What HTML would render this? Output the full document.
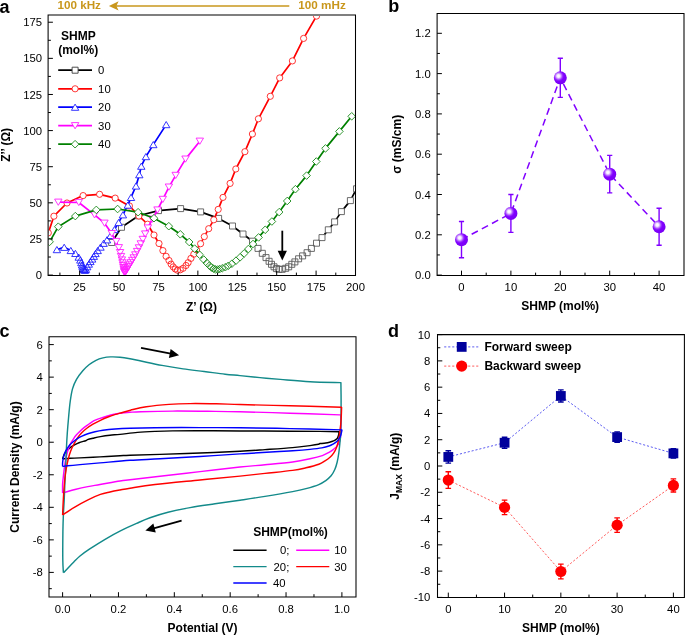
<!DOCTYPE html><html><head><meta charset="utf-8"><style>html,body{margin:0;padding:0;background:#fff;overflow:hidden}svg{display:block;will-change:transform}text{font-family:"Liberation Sans", sans-serif}</style></head><body>
<svg width="685" height="635" viewBox="0 0 685 635">
<rect width="685" height="635" fill="#fff"/>
<defs><clipPath id="cpa"><rect x="48.6" y="15.5" width="306.4" height="259.5"/></clipPath></defs>
<g clip-path="url(#cpa)" transform="translate(0 0.4)">
<polyline points="111.7,242.1 121.5,226.9 138.6,215.4 158.5,210.2 180.6,208.2 200.6,211.5 218.6,218 232.5,225.6 243,233.6 252.5,240.8 258,248 262.3,252.9 266,257.2 269.1,260.9 271.5,263.9 274,266.4 276.4,268.2 278.9,268.9 282.2,268.9 285.7,267.9 288.7,266.4 291.8,263.9 294.9,261.5 298.6,258.4 302.6,255.5 307.1,252.3 311.4,248 316.5,242.8 322,237.2 328.3,229.4 334.6,221.5 341.4,211.2 350.4,200.2 356.5,188.4" fill="none" stroke="#000000" stroke-width="1.7" stroke-linejoin="round"/>
<path d="M108.7 239.1h6v6h-6ZM118.5 223.9h6v6h-6ZM135.6 212.4h6v6h-6ZM155.5 207.2h6v6h-6ZM177.6 205.2h6v6h-6ZM197.6 208.5h6v6h-6ZM215.6 215h6v6h-6ZM229.5 222.6h6v6h-6ZM240 230.6h6v6h-6ZM249.5 237.8h6v6h-6ZM255 245h6v6h-6ZM259.3 249.9h6v6h-6ZM263 254.2h6v6h-6ZM266.1 257.9h6v6h-6ZM268.5 260.9h6v6h-6ZM271 263.4h6v6h-6ZM273.4 265.2h6v6h-6ZM275.9 265.9h6v6h-6ZM279.2 265.9h6v6h-6ZM282.7 264.9h6v6h-6ZM285.7 263.4h6v6h-6ZM288.8 260.9h6v6h-6ZM291.9 258.5h6v6h-6ZM295.6 255.4h6v6h-6ZM299.6 252.5h6v6h-6ZM304.1 249.3h6v6h-6ZM308.4 245h6v6h-6ZM313.5 239.8h6v6h-6ZM319 234.2h6v6h-6ZM325.3 226.4h6v6h-6ZM331.6 218.5h6v6h-6ZM338.4 208.2h6v6h-6ZM347.4 197.2h6v6h-6ZM353.5 185.4h6v6h-6Z" fill="#fff" stroke="#5a5a5a" stroke-width="0.9"/>
<polyline points="48.3,232.5 53.9,215.8 67,202.6 83.1,195.2 99.6,193.9 115.2,197.7 129.4,205.5 138.9,215.6 147.6,223.8 154,234.6 159,243.1 162.9,250.2 166.1,255.9 169,260.1 171.1,263.7 173.2,266.5 175.3,268.6 177.5,269.8 180.3,269.4 183.1,267.9 186,265.1 188.1,262.3 190.9,258 193.8,253.8 196.6,249.5 200.6,243.3 204.3,236.2 208.7,228.3 213.8,219.4 218.2,209 223,197 230.1,183 235.8,168.6 244.9,151.3 252.4,133.6 258.4,118.4 270.3,95.9 279.7,77.5 292.4,60.5 303.6,38 316.5,15.7" fill="none" stroke="#FF0000" stroke-width="1.7" stroke-linejoin="round"/>
<path d="M45.2 232.5a3.1 3.1 0 1 0 6.2 0a3.1 3.1 0 1 0 -6.2 0ZM50.8 215.8a3.1 3.1 0 1 0 6.2 0a3.1 3.1 0 1 0 -6.2 0ZM63.9 202.6a3.1 3.1 0 1 0 6.2 0a3.1 3.1 0 1 0 -6.2 0ZM80 195.2a3.1 3.1 0 1 0 6.2 0a3.1 3.1 0 1 0 -6.2 0ZM96.5 193.9a3.1 3.1 0 1 0 6.2 0a3.1 3.1 0 1 0 -6.2 0ZM112.1 197.7a3.1 3.1 0 1 0 6.2 0a3.1 3.1 0 1 0 -6.2 0ZM126.3 205.5a3.1 3.1 0 1 0 6.2 0a3.1 3.1 0 1 0 -6.2 0ZM135.8 215.6a3.1 3.1 0 1 0 6.2 0a3.1 3.1 0 1 0 -6.2 0ZM144.5 223.8a3.1 3.1 0 1 0 6.2 0a3.1 3.1 0 1 0 -6.2 0ZM150.9 234.6a3.1 3.1 0 1 0 6.2 0a3.1 3.1 0 1 0 -6.2 0ZM155.9 243.1a3.1 3.1 0 1 0 6.2 0a3.1 3.1 0 1 0 -6.2 0ZM159.8 250.2a3.1 3.1 0 1 0 6.2 0a3.1 3.1 0 1 0 -6.2 0ZM163 255.9a3.1 3.1 0 1 0 6.2 0a3.1 3.1 0 1 0 -6.2 0ZM165.9 260.1a3.1 3.1 0 1 0 6.2 0a3.1 3.1 0 1 0 -6.2 0ZM168 263.7a3.1 3.1 0 1 0 6.2 0a3.1 3.1 0 1 0 -6.2 0ZM170.1 266.5a3.1 3.1 0 1 0 6.2 0a3.1 3.1 0 1 0 -6.2 0ZM172.2 268.6a3.1 3.1 0 1 0 6.2 0a3.1 3.1 0 1 0 -6.2 0ZM174.4 269.8a3.1 3.1 0 1 0 6.2 0a3.1 3.1 0 1 0 -6.2 0ZM177.2 269.4a3.1 3.1 0 1 0 6.2 0a3.1 3.1 0 1 0 -6.2 0ZM180 267.9a3.1 3.1 0 1 0 6.2 0a3.1 3.1 0 1 0 -6.2 0ZM182.9 265.1a3.1 3.1 0 1 0 6.2 0a3.1 3.1 0 1 0 -6.2 0ZM185 262.3a3.1 3.1 0 1 0 6.2 0a3.1 3.1 0 1 0 -6.2 0ZM187.8 258a3.1 3.1 0 1 0 6.2 0a3.1 3.1 0 1 0 -6.2 0ZM190.7 253.8a3.1 3.1 0 1 0 6.2 0a3.1 3.1 0 1 0 -6.2 0ZM193.5 249.5a3.1 3.1 0 1 0 6.2 0a3.1 3.1 0 1 0 -6.2 0ZM197.5 243.3a3.1 3.1 0 1 0 6.2 0a3.1 3.1 0 1 0 -6.2 0ZM201.2 236.2a3.1 3.1 0 1 0 6.2 0a3.1 3.1 0 1 0 -6.2 0ZM205.6 228.3a3.1 3.1 0 1 0 6.2 0a3.1 3.1 0 1 0 -6.2 0ZM210.7 219.4a3.1 3.1 0 1 0 6.2 0a3.1 3.1 0 1 0 -6.2 0ZM215.1 209a3.1 3.1 0 1 0 6.2 0a3.1 3.1 0 1 0 -6.2 0ZM219.9 197a3.1 3.1 0 1 0 6.2 0a3.1 3.1 0 1 0 -6.2 0ZM227 183a3.1 3.1 0 1 0 6.2 0a3.1 3.1 0 1 0 -6.2 0ZM232.7 168.6a3.1 3.1 0 1 0 6.2 0a3.1 3.1 0 1 0 -6.2 0ZM241.8 151.3a3.1 3.1 0 1 0 6.2 0a3.1 3.1 0 1 0 -6.2 0ZM249.3 133.6a3.1 3.1 0 1 0 6.2 0a3.1 3.1 0 1 0 -6.2 0ZM255.3 118.4a3.1 3.1 0 1 0 6.2 0a3.1 3.1 0 1 0 -6.2 0ZM267.2 95.9a3.1 3.1 0 1 0 6.2 0a3.1 3.1 0 1 0 -6.2 0ZM276.6 77.5a3.1 3.1 0 1 0 6.2 0a3.1 3.1 0 1 0 -6.2 0ZM289.3 60.5a3.1 3.1 0 1 0 6.2 0a3.1 3.1 0 1 0 -6.2 0ZM300.5 38a3.1 3.1 0 1 0 6.2 0a3.1 3.1 0 1 0 -6.2 0ZM313.4 15.7a3.1 3.1 0 1 0 6.2 0a3.1 3.1 0 1 0 -6.2 0Z" fill="#fff" stroke="#FF2020" stroke-width="0.9"/>
<polyline points="56.9,249.2 64.2,246.9 70.8,250.1 75.4,253 78.7,256.7 80.3,259.6 81.3,262.2 82,264.5 82.6,266.3 83.2,267.7 83.8,268.8 84.4,269.5 85.1,269.8 85.9,268.9 87.2,266.3 88.8,263.7 90.4,261.1 92.2,258.6 93.8,255.9 95.5,253.1 97.7,250.1 100.5,246.7 103.6,242.9 107,239.4 110.6,235 114.5,229.1 118.6,222.1 122.9,214.4 127.8,204.7 131,197 136,185.6 139.3,174.3 141.3,165.8 145.9,156.2 153.3,144.2 166.2,124.2" fill="none" stroke="#0000FF" stroke-width="1.7" stroke-linejoin="round"/>
<path d="M56.9 246.1L60.6 252.3L53.2 252.3ZM64.2 243.8L67.9 250L60.5 250ZM70.8 247L74.5 253.2L67.1 253.2ZM75.4 249.9L79.1 256.1L71.7 256.1ZM78.7 253.6L82.4 259.8L75 259.8ZM80.3 256.5L84 262.7L76.6 262.7ZM81.3 259.1L85 265.3L77.6 265.3ZM82 261.4L85.7 267.6L78.3 267.6ZM82.6 263.2L86.3 269.4L78.9 269.4ZM83.2 264.6L86.9 270.8L79.5 270.8ZM83.8 265.7L87.5 271.9L80.1 271.9ZM84.4 266.4L88.1 272.6L80.7 272.6ZM85.1 266.7L88.8 272.9L81.4 272.9ZM85.9 265.8L89.6 272L82.2 272ZM87.2 263.2L90.9 269.4L83.5 269.4ZM88.8 260.6L92.5 266.8L85.1 266.8ZM90.4 258L94.1 264.2L86.7 264.2ZM92.2 255.5L95.9 261.7L88.5 261.7ZM93.8 252.8L97.5 259L90.1 259ZM95.5 250L99.2 256.2L91.8 256.2ZM97.7 247L101.4 253.2L94 253.2ZM100.5 243.6L104.2 249.8L96.8 249.8ZM103.6 239.8L107.3 246L99.9 246ZM107 236.3L110.7 242.5L103.3 242.5ZM110.6 231.9L114.3 238.1L106.9 238.1ZM114.5 226L118.2 232.2L110.8 232.2ZM118.6 219L122.3 225.2L114.9 225.2ZM122.9 211.3L126.6 217.5L119.2 217.5ZM127.8 201.6L131.5 207.8L124.1 207.8ZM131 193.9L134.7 200.1L127.3 200.1ZM136 182.5L139.7 188.7L132.3 188.7ZM139.3 171.2L143 177.4L135.6 177.4ZM141.3 162.7L145 168.9L137.6 168.9ZM145.9 153.1L149.6 159.3L142.2 159.3ZM153.3 141.1L157 147.3L149.6 147.3ZM166.2 121.1L169.9 127.3L162.5 127.3Z" fill="#fff" stroke="#2020FF" stroke-width="0.9"/>
<polyline points="58.3,201.8 78.8,202.1 94.6,214.5 104.5,222.8 111.8,233.2 116.2,241.1 118.8,247.3 120.1,252.2 121,256.1 121.9,259.6 122.5,262.5 123,265 123.4,267.2 123.8,269 124.1,270.5 124.4,271.6 124.7,272.4 125.2,272.1 125.9,270.7 126.7,269.3 127.6,267.9 128.5,266.3 129.6,264.5 130.8,262.4 132.2,260 133.7,257.5 135.3,254.5 137.1,251.1 138.9,247.5 140.8,243.5 142.8,239 145.2,233.6 147.9,227.6 152.3,218.8 157.5,209.6 162.8,199 168.9,186.7 175.7,175 185.5,158.7 199.8,140.8" fill="none" stroke="#FF00FF" stroke-width="1.7" stroke-linejoin="round"/>
<path d="M58.3 204.9L62 198.7L54.6 198.7ZM78.8 205.2L82.5 199L75.1 199ZM94.6 217.6L98.3 211.4L90.9 211.4ZM104.5 225.9L108.2 219.7L100.8 219.7ZM111.8 236.3L115.5 230.1L108.1 230.1ZM116.2 244.2L119.9 238L112.5 238ZM118.8 250.4L122.5 244.2L115.1 244.2ZM120.1 255.3L123.8 249.1L116.4 249.1ZM121 259.2L124.7 253L117.3 253ZM121.9 262.7L125.6 256.5L118.2 256.5ZM122.5 265.6L126.2 259.4L118.8 259.4ZM123 268.1L126.7 261.9L119.3 261.9ZM123.4 270.3L127.1 264.1L119.7 264.1ZM123.8 272.1L127.5 265.9L120.1 265.9ZM124.1 273.6L127.8 267.4L120.4 267.4ZM124.4 274.7L128.1 268.5L120.7 268.5ZM124.7 275.5L128.4 269.3L121 269.3ZM125.2 275.2L128.9 269L121.5 269ZM125.9 273.8L129.6 267.6L122.2 267.6ZM126.7 272.4L130.4 266.2L123 266.2ZM127.6 271L131.3 264.8L123.9 264.8ZM128.5 269.4L132.2 263.2L124.8 263.2ZM129.6 267.6L133.3 261.4L125.9 261.4ZM130.8 265.5L134.5 259.3L127.1 259.3ZM132.2 263.1L135.9 256.9L128.5 256.9ZM133.7 260.6L137.4 254.4L130 254.4ZM135.3 257.6L139 251.4L131.6 251.4ZM137.1 254.2L140.8 248L133.4 248ZM138.9 250.6L142.6 244.4L135.2 244.4ZM140.8 246.6L144.5 240.4L137.1 240.4ZM142.8 242.1L146.5 235.9L139.1 235.9ZM145.2 236.7L148.9 230.5L141.5 230.5ZM147.9 230.7L151.6 224.5L144.2 224.5ZM152.3 221.9L156 215.7L148.6 215.7ZM157.5 212.7L161.2 206.5L153.8 206.5ZM162.8 202.1L166.5 195.9L159.1 195.9ZM168.9 189.8L172.6 183.6L165.2 183.6ZM175.7 178.1L179.4 171.9L172 171.9ZM185.5 161.8L189.2 155.6L181.8 155.6ZM199.8 143.9L203.5 137.7L196.1 137.7Z" fill="#fff" stroke="#FF20FF" stroke-width="0.9"/>
<polyline points="49.6,241.4 58.3,226.3 75.3,215.7 96.3,209.5 117.6,208.6 138.1,211.8 154,217.8 168.8,225.8 180.3,233.9 189.2,241.6 194.6,248.2 199.7,254.4 203.8,259.2 206.9,262.6 209.4,265.2 211.5,267.1 213.5,268.3 215.5,269 217.6,269.1 219.6,268.7 222.2,267.9 225.3,266.8 228.3,265.4 231.9,263.3 236,260.3 240.1,256.9 244.2,253 248.4,248.6 253,243.6 258.6,237 265.2,229.4 271.9,221.1 279.2,211.7 287.2,200.6 295.4,188.8 306.6,175.2 316.3,161.1 325.5,148 339.4,131 351.7,115.9" fill="none" stroke="#008000" stroke-width="1.7" stroke-linejoin="round"/>
<path d="M49.6 237.6L53.4 241.4L49.6 245.2L45.8 241.4ZM58.3 222.5L62.1 226.3L58.3 230.1L54.5 226.3ZM75.3 211.9L79.1 215.7L75.3 219.5L71.5 215.7ZM96.3 205.7L100.1 209.5L96.3 213.3L92.5 209.5ZM117.6 204.8L121.4 208.6L117.6 212.4L113.8 208.6ZM138.1 208L141.9 211.8L138.1 215.6L134.3 211.8ZM154 214L157.8 217.8L154 221.6L150.2 217.8ZM168.8 222L172.6 225.8L168.8 229.6L165 225.8ZM180.3 230.1L184.1 233.9L180.3 237.7L176.5 233.9ZM189.2 237.8L193 241.6L189.2 245.4L185.4 241.6ZM194.6 244.4L198.4 248.2L194.6 252L190.8 248.2ZM199.7 250.6L203.5 254.4L199.7 258.2L195.9 254.4ZM203.8 255.4L207.6 259.2L203.8 263L200 259.2ZM206.9 258.8L210.7 262.6L206.9 266.4L203.1 262.6ZM209.4 261.4L213.2 265.2L209.4 269L205.6 265.2ZM211.5 263.3L215.3 267.1L211.5 270.9L207.7 267.1ZM213.5 264.5L217.3 268.3L213.5 272.1L209.7 268.3ZM215.5 265.2L219.3 269L215.5 272.8L211.7 269ZM217.6 265.3L221.4 269.1L217.6 272.9L213.8 269.1ZM219.6 264.9L223.4 268.7L219.6 272.5L215.8 268.7ZM222.2 264.1L226 267.9L222.2 271.7L218.4 267.9ZM225.3 263L229.1 266.8L225.3 270.6L221.5 266.8ZM228.3 261.6L232.1 265.4L228.3 269.2L224.5 265.4ZM231.9 259.5L235.7 263.3L231.9 267.1L228.1 263.3ZM236 256.5L239.8 260.3L236 264.1L232.2 260.3ZM240.1 253.1L243.9 256.9L240.1 260.7L236.3 256.9ZM244.2 249.2L248 253L244.2 256.8L240.4 253ZM248.4 244.8L252.2 248.6L248.4 252.4L244.6 248.6ZM253 239.8L256.8 243.6L253 247.4L249.2 243.6ZM258.6 233.2L262.4 237L258.6 240.8L254.8 237ZM265.2 225.6L269 229.4L265.2 233.2L261.4 229.4ZM271.9 217.3L275.7 221.1L271.9 224.9L268.1 221.1ZM279.2 207.9L283 211.7L279.2 215.5L275.4 211.7ZM287.2 196.8L291 200.6L287.2 204.4L283.4 200.6ZM295.4 185L299.2 188.8L295.4 192.6L291.6 188.8ZM306.6 171.4L310.4 175.2L306.6 179L302.8 175.2ZM316.3 157.3L320.1 161.1L316.3 164.9L312.5 161.1ZM325.5 144.2L329.3 148L325.5 151.8L321.7 148ZM339.4 127.2L343.2 131L339.4 134.8L335.6 131ZM351.7 112.1L355.5 115.9L351.7 119.7L347.9 115.9Z" fill="#fff" stroke="#1a8a1a" stroke-width="0.9"/>
</g>
<path d="M48.1 15H355.5V275.4H48.1Z" fill="none" stroke="#000" stroke-width="1.05"/>
<path d="M79.63 275.4v-4.8M119.04 275.4v-4.8M158.45 275.4v-4.8M197.86 275.4v-4.8M237.27 275.4v-4.8M276.68 275.4v-4.8M316.09 275.4v-4.8M355.5 275.4v-4.8M59.92 275.4v-2.8M99.33 275.4v-2.8M138.74 275.4v-2.8M178.15 275.4v-2.8M217.56 275.4v-2.8M256.97 275.4v-2.8M296.38 275.4v-2.8M335.79 275.4v-2.8M48.1 275.08h4.8M48.1 238.96h4.8M48.1 202.84h4.8M48.1 166.71h4.8M48.1 130.59h4.8M48.1 94.47h4.8M48.1 58.35h4.8M48.1 22.22h4.8M48.1 257.02h2.8M48.1 220.9h2.8M48.1 184.77h2.8M48.1 148.65h2.8M48.1 112.53h2.8M48.1 76.41h2.8M48.1 40.29h2.8" stroke="#000" stroke-width="1.0" fill="none"/>
<text x="42" y="279.13" font-size="11.3" text-anchor="end" fill="#000">0</text>
<text x="42" y="243.01" font-size="11.3" text-anchor="end" fill="#000">25</text>
<text x="42" y="206.89" font-size="11.3" text-anchor="end" fill="#000">50</text>
<text x="42" y="170.76" font-size="11.3" text-anchor="end" fill="#000">75</text>
<text x="42" y="134.64" font-size="11.3" text-anchor="end" fill="#000">100</text>
<text x="42" y="98.52" font-size="11.3" text-anchor="end" fill="#000">125</text>
<text x="42" y="62.4" font-size="11.3" text-anchor="end" fill="#000">150</text>
<text x="42" y="26.27" font-size="11.3" text-anchor="end" fill="#000">175</text>
<text x="79.63" y="290.6" font-size="11.3" text-anchor="middle" fill="#000">25</text>
<text x="119.04" y="290.6" font-size="11.3" text-anchor="middle" fill="#000">50</text>
<text x="158.45" y="290.6" font-size="11.3" text-anchor="middle" fill="#000">75</text>
<text x="197.86" y="290.6" font-size="11.3" text-anchor="middle" fill="#000">100</text>
<text x="237.27" y="290.6" font-size="11.3" text-anchor="middle" fill="#000">125</text>
<text x="276.68" y="290.6" font-size="11.3" text-anchor="middle" fill="#000">150</text>
<text x="316.09" y="290.6" font-size="11.3" text-anchor="middle" fill="#000">175</text>
<text x="355.5" y="290.6" font-size="11.3" text-anchor="middle" fill="#000">200</text>
<text x="201.5" y="310.5" font-size="12" text-anchor="middle" font-weight="bold" fill="#000">Z’ (Ω)</text>
<text x="0" y="0" font-size="12" text-anchor="middle" font-weight="bold" fill="#000" transform="translate(9.5 144.8) rotate(-90)">Z’’ (Ω)</text>
<text x="-0.6" y="12.6" font-size="18" text-anchor="start" font-weight="bold" fill="#000">a</text>
<text x="57.4" y="9.2" font-size="11.7" text-anchor="start" font-weight="bold" fill="#C9971C">100 kHz</text>
<text x="298.3" y="9.2" font-size="11.7" text-anchor="start" font-weight="bold" fill="#C9971C">100 mHz</text>
<path d="M289.3 5.9H116" stroke="#C9971C" stroke-width="1.5"/>
<path d="M108.9 5.9L118.6 1.3L116.4 5.9L118.6 10.5Z" fill="#C9971C"/>
<path d="M282.3 230.7V252" stroke="#000" stroke-width="1.8"/>
<path d="M282.3 260.6L277.7 250.8H286.9Z" fill="#000"/>
<text x="61" y="40.3" font-size="12" text-anchor="start" font-weight="bold" fill="#000">SHMP</text>
<text x="58.2" y="54.3" font-size="12" text-anchor="start" font-weight="bold" fill="#000">(mol%)</text>
<path d="M58.2 70.2H92" stroke="#000000" stroke-width="1.7"/>
<path d="M72.1 67.2h6v6h-6Z" fill="#fff" stroke="#3a3a3a" stroke-width="0.9"/>
<text x="98.1" y="74.25" font-size="11.3" text-anchor="start" fill="#000">0</text>
<path d="M58.2 88.8H92" stroke="#FF0000" stroke-width="1.7"/>
<path d="M72 88.8a3.1 3.1 0 1 0 6.2 0a3.1 3.1 0 1 0 -6.2 0Z" fill="#fff" stroke="#FF2020" stroke-width="0.9"/>
<text x="98.1" y="92.85" font-size="11.3" text-anchor="start" fill="#000">10</text>
<path d="M58.2 107.2H92" stroke="#0000FF" stroke-width="1.7"/>
<path d="M75.1 104.1L78.8 110.3L71.4 110.3Z" fill="#fff" stroke="#2020FF" stroke-width="0.9"/>
<text x="98.1" y="111.25" font-size="11.3" text-anchor="start" fill="#000">20</text>
<path d="M58.2 125.7H92" stroke="#FF00FF" stroke-width="1.7"/>
<path d="M75.1 128.8L78.8 122.6L71.4 122.6Z" fill="#fff" stroke="#FF20FF" stroke-width="0.9"/>
<text x="98.1" y="129.75" font-size="11.3" text-anchor="start" fill="#000">30</text>
<path d="M58.2 144.2H92" stroke="#008000" stroke-width="1.7"/>
<path d="M75.1 140.4L78.9 144.2L75.1 148L71.3 144.2Z" fill="#fff" stroke="#1a8a1a" stroke-width="0.9"/>
<text x="98.1" y="148.25" font-size="11.3" text-anchor="start" fill="#000">40</text>
<path d="M437.1 13.5H684V275.45H437.1Z" fill="none" stroke="#000" stroke-width="1.05"/>
<path d="M461.5 275.45v-4.8M510.9 275.45v-4.8M560.3 275.45v-4.8M609.7 275.45v-4.8M659.1 275.45v-4.8M486.2 275.45v-2.8M535.6 275.45v-2.8M585 275.45v-2.8M634.4 275.45v-2.8M437.1 275.1h4.8M437.1 234.8h4.8M437.1 194.5h4.8M437.1 154.2h4.8M437.1 113.9h4.8M437.1 73.6h4.8M437.1 33.3h4.8M437.1 254.95h2.8M437.1 214.65h2.8M437.1 174.35h2.8M437.1 134.05h2.8M437.1 93.75h2.8M437.1 53.45h2.8" stroke="#000" stroke-width="1.0" fill="none"/>
<text x="430.7" y="279.15" font-size="11.3" text-anchor="end" fill="#000">0.0</text>
<text x="430.7" y="238.85" font-size="11.3" text-anchor="end" fill="#000">0.2</text>
<text x="430.7" y="198.55" font-size="11.3" text-anchor="end" fill="#000">0.4</text>
<text x="430.7" y="158.25" font-size="11.3" text-anchor="end" fill="#000">0.6</text>
<text x="430.7" y="117.95" font-size="11.3" text-anchor="end" fill="#000">0.8</text>
<text x="430.7" y="77.65" font-size="11.3" text-anchor="end" fill="#000">1.0</text>
<text x="430.7" y="37.35" font-size="11.3" text-anchor="end" fill="#000">1.2</text>
<text x="461.5" y="290.8" font-size="11.3" text-anchor="middle" fill="#000">0</text>
<text x="510.9" y="290.8" font-size="11.3" text-anchor="middle" fill="#000">10</text>
<text x="560.3" y="290.8" font-size="11.3" text-anchor="middle" fill="#000">20</text>
<text x="609.7" y="290.8" font-size="11.3" text-anchor="middle" fill="#000">30</text>
<text x="659.1" y="290.8" font-size="11.3" text-anchor="middle" fill="#000">40</text>
<text x="560.2" y="310.2" font-size="12" text-anchor="middle" font-weight="bold" fill="#000">SHMP (mol%)</text>
<text x="0" y="0" font-size="12" text-anchor="middle" font-weight="bold" fill="#000" transform="translate(401.2 144.3) rotate(-90)">σ (mS/cm)</text>
<text x="388.3" y="12.4" font-size="18" text-anchor="start" font-weight="bold" fill="#000">b</text>
<polyline points="461.5,239.64 510.9,213.44 560.3,77.83 609.7,174.15 659.1,226.74" fill="none" stroke="#8000FF" stroke-width="1.5" stroke-dasharray="7 4.5"/>
<path d="M461.5 221.5V257.77M458.9 221.5h5.2M458.9 257.77h5.2M510.9 194.5V232.38M508.3 194.5h5.2M508.3 232.38h5.2M560.3 58.29V97.38M557.7 58.29h5.2M557.7 97.38h5.2M609.7 155.41V192.89M607.1 155.41h5.2M607.1 192.89h5.2M659.1 208.2V245.28M656.5 208.2h5.2M656.5 245.28h5.2" stroke="#8000FF" stroke-width="1.4" fill="none"/>
<defs><radialGradient id="sph" cx="0.36" cy="0.36" r="0.62"><stop offset="0" stop-color="#ffffff"/><stop offset="0.18" stop-color="#f6eeff"/><stop offset="0.5" stop-color="#9a30ff"/><stop offset="0.66" stop-color="#8000ff"/><stop offset="1" stop-color="#7a00f4"/></radialGradient></defs>
<circle cx="461.5" cy="239.64" r="6.5" fill="url(#sph)"/>
<circle cx="510.9" cy="213.44" r="6.5" fill="url(#sph)"/>
<circle cx="560.3" cy="77.83" r="6.5" fill="url(#sph)"/>
<circle cx="609.7" cy="174.15" r="6.5" fill="url(#sph)"/>
<circle cx="659.1" cy="226.74" r="6.5" fill="url(#sph)"/>
<path d="M49 336.7H356V597H49Z" fill="none" stroke="#000" stroke-width="1.05"/>
<path d="M62.6 597v-4.8M118.46 597v-4.8M174.32 597v-4.8M230.18 597v-4.8M286.04 597v-4.8M341.9 597v-4.8M90.53 597v-2.8M146.39 597v-2.8M202.25 597v-2.8M258.11 597v-2.8M313.97 597v-2.8M49 572.4h4.8M49 539.86h4.8M49 507.31h4.8M49 474.77h4.8M49 442.23h4.8M49 409.69h4.8M49 377.14h4.8M49 344.6h4.8M49 588.67h2.8M49 556.13h2.8M49 523.59h2.8M49 491.04h2.8M49 458.5h2.8M49 425.96h2.8M49 393.41h2.8M49 360.87h2.8" stroke="#000" stroke-width="1.0" fill="none"/>
<text x="42.8" y="576.45" font-size="11.3" text-anchor="end" fill="#000">-8</text>
<text x="42.8" y="543.91" font-size="11.3" text-anchor="end" fill="#000">-6</text>
<text x="42.8" y="511.36" font-size="11.3" text-anchor="end" fill="#000">-4</text>
<text x="42.8" y="478.82" font-size="11.3" text-anchor="end" fill="#000">-2</text>
<text x="42.8" y="446.28" font-size="11.3" text-anchor="end" fill="#000">0</text>
<text x="42.8" y="413.74" font-size="11.3" text-anchor="end" fill="#000">2</text>
<text x="42.8" y="381.19" font-size="11.3" text-anchor="end" fill="#000">4</text>
<text x="42.8" y="348.65" font-size="11.3" text-anchor="end" fill="#000">6</text>
<text x="62.6" y="612.9" font-size="11.3" text-anchor="middle" fill="#000">0.0</text>
<text x="118.46" y="612.9" font-size="11.3" text-anchor="middle" fill="#000">0.2</text>
<text x="174.32" y="612.9" font-size="11.3" text-anchor="middle" fill="#000">0.4</text>
<text x="230.18" y="612.9" font-size="11.3" text-anchor="middle" fill="#000">0.6</text>
<text x="286.04" y="612.9" font-size="11.3" text-anchor="middle" fill="#000">0.8</text>
<text x="341.9" y="612.9" font-size="11.3" text-anchor="middle" fill="#000">1.0</text>
<text x="202.6" y="632.4" font-size="12" text-anchor="middle" font-weight="bold" fill="#000">Potential (V)</text>
<text x="0" y="0" font-size="12" text-anchor="middle" font-weight="bold" fill="#000" transform="translate(18.9 467.0) rotate(-90)">Current Density (mA/g)</text>
<text x="-0.6" y="337.1" font-size="18" text-anchor="start" font-weight="bold" fill="#000">c</text>
<path d="M62.6 458.9C62.82 458.27 63.45 456.15 63.9 455.1C64.35 454.05 64.7 453.45 65.3 452.6C65.9 451.75 66.63 450.87 67.5 450C68.37 449.13 69.33 448.25 70.5 447.4C71.67 446.55 73.08 445.68 74.5 444.9C75.92 444.12 77.33 443.35 79 442.7C80.67 442.05 83.25 441.38 84.5 441C85.75 440.62 86 440.63 86.5 440.4C87 440.17 86.42 439.97 87.5 439.6C88.58 439.23 90.85 438.7 93 438.2C95.15 437.7 97.57 437.1 100.4 436.6C103.23 436.1 106.73 435.57 110 435.2C113.27 434.83 115.42 434.87 120 434.4C124.58 433.93 131.67 432.9 137.5 432.4C143.33 431.9 149.15 431.65 155 431.4C160.85 431.15 164.27 431 172.6 430.9C180.93 430.8 193.77 430.78 205 430.8C216.23 430.82 225.83 430.93 240 431C254.17 431.07 276.67 431.13 290 431.2C303.33 431.27 311.82 431.32 320 431.4C328.18 431.48 335.92 431.65 339.1 431.7L339.1 431.9C339.02 432.42 338.85 434.02 338.6 435C338.35 435.98 338.07 437.03 337.6 437.8C337.13 438.57 336.47 439.08 335.8 439.6C335.13 440.12 334.65 440.47 333.6 440.9C332.55 441.33 330.82 441.85 329.5 442.2C328.18 442.55 327.12 442.78 325.7 443C324.28 443.22 322.05 443.4 321 443.5C319.95 443.6 319.82 443.47 319.4 443.6C318.98 443.73 320.07 443.97 318.5 444.3C316.93 444.63 314.32 445.05 310 445.6C305.68 446.15 300.1 446.93 292.6 447.6C285.1 448.27 273.77 449 265 449.6C256.23 450.2 250.83 450.63 240 451.2C229.17 451.77 213.33 452.47 200 453C186.67 453.53 171.67 454.03 160 454.4C148.33 454.77 136.67 454.98 130 455.2C123.33 455.42 125 455.42 120 455.7C115 455.98 106.67 456.53 100 456.9C93.33 457.27 84.97 457.67 80 457.9C75.03 458.13 73.1 458.13 70.2 458.3C67.3 458.47 63.87 458.8 62.6 458.9" fill="none" stroke="#000000" stroke-width="1.45" stroke-linejoin="round"/>
<path d="M62.6 492.9C62.6 491.43 62.5 486.58 62.6 484.1C62.7 481.62 62.98 480.1 63.2 478C63.42 475.9 63.63 473.75 63.9 471.5C64.17 469.25 64.47 466.68 64.8 464.5C65.13 462.32 65.48 460.4 65.9 458.4C66.32 456.4 66.8 454.3 67.3 452.5C67.8 450.7 68.32 449.15 68.9 447.6C69.48 446.05 70.03 444.67 70.8 443.2C71.57 441.73 72.55 440.2 73.5 438.8C74.45 437.4 75.42 436.07 76.5 434.8C77.58 433.53 78.75 432.4 80 431.2C81.25 430 82.5 428.8 84 427.6C85.5 426.4 87.32 425.17 89 424C90.68 422.83 92.27 421.53 94.1 420.6C95.93 419.67 97.9 419.13 100 418.4C102.1 417.67 104.37 416.9 106.7 416.2C109.03 415.5 111.78 414.7 114 414.2C116.22 413.7 117.33 413.52 120 413.2C122.67 412.88 126.5 412.55 130 412.3C133.5 412.05 133.9 411.9 141 411.7C148.1 411.5 161.5 411.17 172.6 411.1C183.7 411.03 196.37 411.2 207.6 411.3C218.83 411.4 226.27 411.38 240 411.7C253.73 412.02 273.35 412.67 290 413.2C306.65 413.73 331.58 414.62 339.9 414.9L340.7 415C340.75 416.67 341 421.53 341 425C341 428.47 341 432.88 340.7 435.8C340.4 438.72 339.85 440.73 339.2 442.5C338.55 444.27 337.75 445.27 336.8 446.4C335.85 447.53 334.8 448.32 333.5 449.3C332.2 450.28 330.87 451.25 329 452.3C327.13 453.35 325.47 454.52 322.3 455.6C319.13 456.68 314.95 457.73 310 458.8C305.05 459.87 300.1 461 292.6 462C285.1 463 273.77 463.97 265 464.8C256.23 465.63 250.83 465.87 240 467C229.17 468.13 213.33 470.07 200 471.6C186.67 473.13 171.67 474.85 160 476.2C148.33 477.55 136.67 478.9 130 479.7C123.33 480.5 125 480.2 120 481C115 481.8 105.37 483.57 100 484.5C94.63 485.43 91.97 485.77 87.8 486.6C83.63 487.43 78.78 488.55 75 489.5C71.22 490.45 67.17 491.73 65.1 492.3C63.03 492.87 63.02 492.8 62.6 492.9" fill="none" stroke="#FF00FF" stroke-width="1.45" stroke-linejoin="round"/>
<path d="M63.4 572.8C63.3 570.67 62.88 566.88 62.8 560C62.72 553.12 62.8 539.13 62.9 531.5C63 523.87 63.18 519.45 63.4 514.2C63.62 508.95 63.93 505.7 64.2 500C64.47 494.3 64.73 485.92 65 480C65.27 474.08 65.57 469.72 65.8 464.5C66.03 459.28 66.15 453.95 66.4 448.7C66.65 443.45 66.93 438.25 67.3 433C67.67 427.75 68.12 422.45 68.6 417.2C69.08 411.95 69.55 406.22 70.2 401.5C70.85 396.78 71.45 392.58 72.5 388.9C73.55 385.22 74.78 382.42 76.5 379.4C78.22 376.38 80.72 373.23 82.8 370.8C84.88 368.37 86.8 366.55 89 364.8C91.2 363.05 93.67 361.45 96 360.3C98.33 359.15 100.58 358.47 103 357.9C105.42 357.33 107.67 357.02 110.5 356.9C113.33 356.78 116.75 356.9 120 357.2C123.25 357.5 126.5 358.07 130 358.7C133.5 359.33 135.67 359.88 141 361C146.33 362.12 154.98 364.08 162 365.4C169.02 366.72 176.08 367.88 183.1 368.9C190.12 369.92 197.1 370.62 204.1 371.5C211.1 372.38 219.12 373.52 225.1 374.2C231.08 374.88 234.18 375.03 240 375.6C245.82 376.17 253.28 376.97 260 377.6C266.72 378.23 271.95 378.72 280.3 379.4C288.65 380.08 300.03 381.17 310.1 381.7C320.17 382.23 335.6 382.45 340.7 382.6L340.9 382.8C340.93 385.67 341.08 393.8 341.1 400C341.12 406.2 341.08 414.17 341 420C340.92 425.83 340.78 431.17 340.6 435C340.42 438.83 340.2 440 339.9 443C339.6 446 339.25 449.83 338.8 453C338.35 456.17 337.87 459.25 337.2 462C336.53 464.75 335.82 467.2 334.8 469.5C333.78 471.8 332.65 473.92 331.1 475.8C329.55 477.68 327.55 479.33 325.5 480.8C323.45 482.27 322.05 483.3 318.8 484.6C315.55 485.9 310.37 487.43 306 488.6C301.63 489.77 299.43 490.3 292.6 491.6C285.77 492.9 273.77 494.97 265 496.4C256.23 497.83 248.33 498.97 240 500.2C231.67 501.43 223.32 502.57 215 503.8C206.68 505.03 197.93 506.18 190.1 507.6C182.27 509.02 174.68 510.6 168 512.3C161.32 514 155.23 515.95 150 517.8C144.77 519.65 141.45 521.25 136.6 523.4C131.75 525.55 126.15 528.05 120.9 530.7C115.65 533.35 110.35 536.22 105.1 539.3C99.85 542.38 93.58 546.42 89.4 549.2C85.22 551.98 82.63 553.83 80 556C77.37 558.17 76.37 559.4 73.6 562.2C70.83 565 65.1 571.03 63.4 572.8" fill="none" stroke="#138A8A" stroke-width="1.45" stroke-linejoin="round"/>
<path d="M62.6 515C62.7 512.83 62.98 506.1 63.2 502C63.42 497.9 63.62 494.32 63.9 490.4C64.18 486.48 64.5 482.15 64.9 478.5C65.3 474.85 65.77 471.67 66.3 468.5C66.83 465.33 67.38 462.38 68.1 459.5C68.82 456.62 69.63 453.78 70.6 451.2C71.57 448.62 72.75 446.2 73.9 444C75.05 441.8 76.23 439.83 77.5 438C78.77 436.17 80 434.58 81.5 433C83 431.42 84.58 429.97 86.5 428.5C88.42 427.03 90.68 425.57 93 424.2C95.32 422.83 97.9 421.5 100.4 420.3C102.9 419.1 105.48 417.98 108 417C110.52 416.02 113.5 415.05 115.5 414.4C117.5 413.75 117.5 413.8 120 413.1C122.5 412.4 126.12 411.25 130.5 410.2C134.88 409.15 139.88 407.77 146.3 406.8C152.72 405.83 161.7 404.93 169 404.4C176.3 403.87 182.2 403.7 190.1 403.6C198 403.5 208.08 403.65 216.4 403.8C224.72 403.95 227.73 404.17 240 404.5C252.27 404.83 273.08 405.35 290 405.8C306.92 406.25 332.92 406.97 341.5 407.2L341.6 407.4C341.52 409.45 341.38 415.68 341.1 419.7C340.82 423.72 340.32 428.12 339.9 431.5C339.48 434.88 339.15 437.38 338.6 440C338.05 442.62 337.4 445.07 336.6 447.2C335.8 449.33 334.9 451.13 333.8 452.8C332.7 454.47 331.47 455.87 330 457.2C328.53 458.53 326.87 459.63 325 460.8C323.13 461.97 321.97 463.03 318.8 464.2C315.63 465.37 310.37 466.77 306 467.8C301.63 468.83 299.43 469.47 292.6 470.4C285.77 471.33 273.77 472.45 265 473.4C256.23 474.35 250.83 475 240 476.1C229.17 477.2 214.17 478.6 200 480C185.83 481.4 166.67 483.13 155 484.5C143.33 485.87 135.83 487.28 130 488.2C124.17 489.12 123.33 489.37 120 490C116.67 490.63 113.27 491.27 110 492C106.73 492.73 104.07 493.1 100.4 494.4C96.73 495.7 92.2 497.73 88 499.8C83.8 501.87 79.43 504.27 75.2 506.8C70.97 509.33 64.7 513.63 62.6 515" fill="none" stroke="#FF0000" stroke-width="1.45" stroke-linejoin="round"/>
<path d="M62.6 466.5C62.6 465.87 62.5 464.03 62.6 462.7C62.7 461.37 62.93 459.85 63.2 458.5C63.47 457.15 63.8 455.82 64.2 454.6C64.6 453.38 65.03 452.32 65.6 451.2C66.17 450.08 66.83 449 67.6 447.9C68.37 446.8 69.22 445.67 70.2 444.6C71.18 443.53 72.35 442.47 73.5 441.5C74.65 440.53 75.68 439.68 77.1 438.8C78.52 437.92 80.22 437.03 82 436.2C83.78 435.37 85.63 434.53 87.8 433.8C89.97 433.07 92.48 432.38 95 431.8C97.52 431.22 99.57 430.77 102.9 430.3C106.23 429.83 110.48 429.35 115 429C119.52 428.65 123.33 428.42 130 428.2C136.67 427.98 143.33 427.8 155 427.7C166.67 427.6 185.83 427.58 200 427.6C214.17 427.62 225 427.63 240 427.8C255 427.97 273.02 428.25 290 428.6C306.98 428.95 333.25 429.68 341.9 429.9L341.9 430.4C341.78 430.93 341.47 432.63 341.2 433.6C340.93 434.57 340.7 435.28 340.3 436.2C339.9 437.12 339.38 438.22 338.8 439.1C338.22 439.98 337.68 440.72 336.8 441.5C335.92 442.28 334.68 443.1 333.5 443.8C332.32 444.5 331.65 445.02 329.7 445.7C327.75 446.38 325.08 447.28 321.8 447.9C318.52 448.52 314.87 448.92 310 449.4C305.13 449.88 298.43 450.4 292.6 450.8C286.77 451.2 283.77 451.28 275 451.8C266.23 452.32 252.5 453.12 240 453.9C227.5 454.68 213.33 455.68 200 456.5C186.67 457.32 171.67 458.17 160 458.8C148.33 459.43 140 459.62 130 460.3C120 460.98 108.33 462.18 100 462.9C91.67 463.62 85.4 464.12 80 464.6C74.6 465.08 70.5 465.48 67.6 465.8C64.7 466.12 63.43 466.38 62.6 466.5" fill="none" stroke="#0000FF" stroke-width="1.45" stroke-linejoin="round"/>
<path d="M141 347.9L170.76 353.68" stroke="#000" stroke-width="1.8" fill="none"/>
<path d="M179.1 355.3L168.9 358L170.65 348.97Z" fill="#000"/>
<path d="M181.6 520.6L153.6 528.26" stroke="#000" stroke-width="1.8" fill="none"/>
<path d="M145.4 530.5L153.35 523.56L155.78 532.43Z" fill="#000"/>
<text x="290.5" y="536.3" font-size="12" text-anchor="middle" font-weight="bold" fill="#000">SHMP(mol%)</text>
<path d="M233.3 550.2H266.6" stroke="#000000" stroke-width="1.45"/>
<path d="M296.2 550.2H329.3" stroke="#FF00FF" stroke-width="1.45"/>
<path d="M233.3 566.6H266.6" stroke="#138A8A" stroke-width="1.45"/>
<path d="M296.2 566.6H329.3" stroke="#FF0000" stroke-width="1.45"/>
<path d="M233.3 583H266.6" stroke="#0000FF" stroke-width="1.45"/>
<text x="289.3" y="554.2" font-size="11.3" text-anchor="end" fill="#000">0;</text>
<text x="289.3" y="570.6" font-size="11.3" text-anchor="end" fill="#000">20;</text>
<text x="272.9" y="587" font-size="11.3" text-anchor="start" fill="#000">40</text>
<text x="334.3" y="554.2" font-size="11.3" text-anchor="start" fill="#000">10</text>
<text x="334.3" y="570.6" font-size="11.3" text-anchor="start" fill="#000">30</text>
<path d="M437.5 334.6H684.4V597.4H437.5Z" fill="none" stroke="#000" stroke-width="1.05"/>
<path d="M448.3 597.4v-4.8M504.57 597.4v-4.8M560.85 597.4v-4.8M617.12 597.4v-4.8M673.4 597.4v-4.8M476.44 597.4v-2.8M532.71 597.4v-2.8M588.99 597.4v-2.8M645.26 597.4v-2.8M437.5 597.4h4.8M437.5 571.12h4.8M437.5 544.84h4.8M437.5 518.56h4.8M437.5 492.28h4.8M437.5 466h4.8M437.5 439.72h4.8M437.5 413.44h4.8M437.5 387.16h4.8M437.5 360.88h4.8M437.5 334.6h4.8M437.5 584.26h2.8M437.5 557.98h2.8M437.5 531.7h2.8M437.5 505.42h2.8M437.5 479.14h2.8M437.5 452.86h2.8M437.5 426.58h2.8M437.5 400.3h2.8M437.5 374.02h2.8M437.5 347.74h2.8" stroke="#000" stroke-width="1.0" fill="none"/>
<text x="430.4" y="601.45" font-size="11.3" text-anchor="end" fill="#000">-10</text>
<text x="430.4" y="575.17" font-size="11.3" text-anchor="end" fill="#000">-8</text>
<text x="430.4" y="548.89" font-size="11.3" text-anchor="end" fill="#000">-6</text>
<text x="430.4" y="522.61" font-size="11.3" text-anchor="end" fill="#000">-4</text>
<text x="430.4" y="496.33" font-size="11.3" text-anchor="end" fill="#000">-2</text>
<text x="430.4" y="470.05" font-size="11.3" text-anchor="end" fill="#000">0</text>
<text x="430.4" y="443.77" font-size="11.3" text-anchor="end" fill="#000">2</text>
<text x="430.4" y="417.49" font-size="11.3" text-anchor="end" fill="#000">4</text>
<text x="430.4" y="391.21" font-size="11.3" text-anchor="end" fill="#000">6</text>
<text x="430.4" y="364.93" font-size="11.3" text-anchor="end" fill="#000">8</text>
<text x="430.4" y="338.65" font-size="11.3" text-anchor="end" fill="#000">10</text>
<text x="448.3" y="612.6" font-size="11.3" text-anchor="middle" fill="#000">0</text>
<text x="504.57" y="612.6" font-size="11.3" text-anchor="middle" fill="#000">10</text>
<text x="560.85" y="612.6" font-size="11.3" text-anchor="middle" fill="#000">20</text>
<text x="617.12" y="612.6" font-size="11.3" text-anchor="middle" fill="#000">30</text>
<text x="673.4" y="612.6" font-size="11.3" text-anchor="middle" fill="#000">40</text>
<text x="560.9" y="632.2" font-size="12" text-anchor="middle" font-weight="bold" fill="#000">SHMP (mol%)</text>
<text font-size="12" font-weight="bold" text-anchor="middle" transform="translate(399.4 466.2) rotate(-90)">J<tspan font-size="8.5" dy="2.5">MAX</tspan><tspan dy="-2.5"> (mA/g)</tspan></text>
<text x="388" y="337" font-size="18" text-anchor="start" font-weight="bold" fill="#000">d</text>
<polyline points="448.3,456.93 504.57,442.74 560.85,395.96 617.12,437.09 673.4,453.39" fill="none" stroke="#4a4aee" stroke-width="0.9" stroke-dasharray="2.1 1.9"/>
<path d="M448.3 450.76V463.11M445.5 450.76h5.6M445.5 463.11h5.6M504.57 437.22V448.26M501.77 437.22h5.6M501.77 448.26h5.6M560.85 389.92V402.01M558.05 389.92h5.6M558.05 402.01h5.6M617.12 431.84V442.35M614.33 431.84h5.6M614.33 442.35h5.6M673.4 448.66V458.12M670.6 448.66h5.6M670.6 458.12h5.6" stroke="#00009C" stroke-width="1.4" fill="none"/>
<rect x="443.4" y="452.03" width="9.8" height="9.8" fill="#00009C"/>
<rect x="499.68" y="437.84" width="9.8" height="9.8" fill="#00009C"/>
<rect x="555.95" y="391.06" width="9.8" height="9.8" fill="#00009C"/>
<rect x="612.23" y="432.19" width="9.8" height="9.8" fill="#00009C"/>
<rect x="668.5" y="448.49" width="9.8" height="9.8" fill="#00009C"/>
<polyline points="448.3,480.06 504.57,507.39 560.85,571.51 617.12,525.13 673.4,485.45" fill="none" stroke="#ff4a4a" stroke-width="0.9" stroke-dasharray="2.1 1.9"/>
<path d="M448.3 471.78V488.34M445.5 471.78h5.6M445.5 488.34h5.6M504.57 500.16V514.62M501.77 500.16h5.6M501.77 514.62h5.6M560.85 564.16V578.87M558.05 564.16h5.6M558.05 578.87h5.6M617.12 517.9V532.36M614.33 517.9h5.6M614.33 532.36h5.6M673.4 478.88V492.02M670.6 478.88h5.6M670.6 492.02h5.6" stroke="#FF0000" stroke-width="1.4" fill="none"/>
<circle cx="448.3" cy="480.06" r="5.6" fill="#FF0000"/>
<circle cx="504.57" cy="507.39" r="5.6" fill="#FF0000"/>
<circle cx="560.85" cy="571.51" r="5.6" fill="#FF0000"/>
<circle cx="617.12" cy="525.13" r="5.6" fill="#FF0000"/>
<circle cx="673.4" cy="485.45" r="5.6" fill="#FF0000"/>
<path d="M444.2 346.9H479" stroke="#4a4aee" stroke-width="0.9" stroke-dasharray="2.1 1.9"/>
<rect x="456.8" y="342" width="9.8" height="9.8" fill="#00009C"/>
<path d="M444.2 366.1H479" stroke="#ff4a4a" stroke-width="0.9" stroke-dasharray="2.1 1.9"/>
<circle cx="461.7" cy="366.1" r="5.6" fill="#FF0000"/>
<text x="484.4" y="350.9" font-size="12" text-anchor="start" font-weight="bold" fill="#000">Forward sweep</text>
<text x="484.4" y="370" font-size="12" text-anchor="start" font-weight="bold" fill="#000">Backward sweep</text>
</svg></body></html>
